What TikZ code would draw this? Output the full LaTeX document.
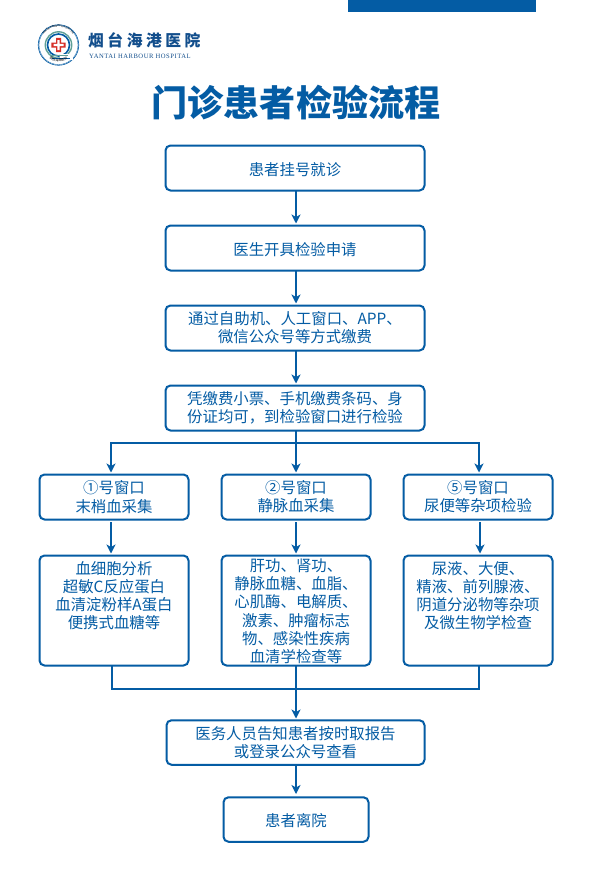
\documentclass[tikz,border=0pt]{standalone}
\usepackage{fontspec}
\setmainfont{Noto Sans CJK SC}
\newfontfamily\latinserif{Liberation Serif}[LetterSpace=8]
\newfontfamily\logofont{Noto Sans CJK SC}[LetterSpace=22]
\usetikzlibrary{arrows.meta,decorations.text}
\definecolor{hblue}{RGB}{4,92,164}
\definecolor{hnavy}{RGB}{18,78,140}
\definecolor{hred}{RGB}{214,48,40}
\definecolor{hgreen}{RGB}{96,160,150}
\newcommand{\toptext}[3]{\parbox[c][#1][t]{146pt}{\centering\rule{0pt}{#2}#3\par}}
\tikzset{
  flowbox/.style={draw=hblue,line width=2pt,rounded corners=5pt,fill=white,text=hblue,inner sep=0pt,align=center,font=\fontsize{15.4}{18.2}\selectfont,execute at begin node={\rule{0pt}{16pt}}},
  flow/.style={draw=hblue,line width=1.6pt},
  arr/.style={flow,shorten >=1.5pt,-{Stealth[length=9pt,width=9pt,inset=2.5pt]}},
  wide/.style={flowbox,minimum width=259pt,minimum height=45pt},
  windowbox/.style={flowbox,minimum width=149pt,minimum height=45pt},
  detailbox/.style={flowbox,minimum width=149pt,minimum height=110pt},
}
\begin{document}
\begin{tikzpicture}[x=1pt,y=-1pt]
\useasboundingbox (0,0) rectangle (592,886);
\fill[white] (0,0) rectangle (592,886);
% top bar
\fill[hblue] (348,0) rectangle (536,11.5);
% logo
\draw[hblue,line width=.6pt] (58.5,45) circle (20.3);
\draw[hblue,line width=.3pt] (58.5,45) circle (19.5);
\draw[hgreen,line width=1.4pt] (58.5,45) circle (13.2);
\draw[hblue,line width=1.6pt] (58.5,45) circle (11);
\fill[white] (58.5,45) circle (8.5);
\fill[hred] (56,37.8) -- (61,37.8) -- (61,42.5) -- (65.7,42.5) -- (65.7,47.5) -- (61,47.5) -- (61,52.2) -- (56,52.2) -- (56,47.5) -- (51.3,47.5) -- (51.3,42.5) -- (56,42.5) -- cycle;
\fill[white] (57.3,40) -- (59.7,40) -- (59.7,43.8) -- (63.5,43.8) -- (63.5,46.2) -- (59.7,46.2) -- (59.7,50) -- (57.3,50) -- (57.3,46.2) -- (53.5,46.2) -- (53.5,43.8) -- (57.3,43.8) -- cycle;
\fill[white] (60,54) rectangle (73,60);
\draw[hgreen,line width=.9pt] (50,55.5) -- (68,55.5);
\draw[hblue,line width=.9pt] (52,58) -- (70,58);
\path[text=hblue,decorate,decoration={text along path,text align=center,text={|\fontsize{3.2}{3.2}\selectfont|烟台海港医院}}] (42,45) arc[start angle=180,end angle=0,radius=16.5];
\path[text=hblue,decorate,decoration={text along path,text align=center,text={|\fontsize{2.6}{2.6}\selectfont|YANTAI HARBOUR HOSPITAL}}] (40.5,43) arc[start angle=186,end angle=354,radius=18];
\node[anchor=west,inner sep=0pt,text=hnavy,font=\logofont\fontsize{15.8}{15.8}\selectfont] (logocn) at (88,40.5) {\textbf{烟台海港医院}};
\node[anchor=west,inner sep=0pt,text=hnavy,font=\latinserif\fontsize{6.6}{6.6}\selectfont] (logoen) at (89,56) {YANTAI HARBOUR HOSPITAL};
% title
\node[inner sep=0pt,text=hblue,font=\bfseries\fontsize{36.1}{36.1}\selectfont] (title) at (296,102.5) {门诊患者检验流程};
% boxes
\node[wide] (b1) at (295,168) {患者挂号就诊};
\node[wide] (b2) at (295,248) {医生开具检验申请};
\node[wide] (b3) at (295,328) {通过自助机、人工窗口、APP、\\微信公众号等方式缴费};
\node[wide] (b4) at (295,408) {凭缴费小票、手机缴费条码、身\\份证均可，到检验窗口进行检验};
\node[windowbox] (w1) at (114,497) {①号窗口\\末梢血采集};
\node[windowbox] (w2) at (296,497) {②号窗口\\静脉血采集};
\node[windowbox] (w3) at (478,497) {⑤号窗口\\尿便等杂项检验};
\node[detailbox] (d1) at (114,610.5) {\toptext{110pt}{18.5pt}{血细胞分析\\超敏C反应蛋白\\血清淀粉样A蛋白\\便携式血糖等}};
\node[detailbox] (d2) at (296,610.5) {\toptext{110pt}{16pt}{肝功、肾功、\\静脉血糖、血脂、\\心肌酶、电解质、\\激素、肿瘤标志\\物、感染性疾病\\血清学检查等}};
\node[detailbox] (d3) at (478,610.5) {\toptext{110pt}{18.5pt}{尿液、大便、\\精液、前列腺液、\\阴道分泌物等杂项\\及微生物学检查}};
\node[flowbox,minimum width=258pt,minimum height=44.5pt] (r) at (295.5,742.5) {医务人员告知患者按时取报告\\或登录公众号查看};
\node[flowbox,minimum width=145pt,minimum height=44.5pt] (l) at (296,819.5) {患者离院};
% anchors on the box edges where the connectors meet them
\coordinate (j) at (296,443);
\coordinate (m) at (296,689);
\coordinate (w1t) at (111,474);
\coordinate (w3t) at (479,474);
\coordinate (w1b) at (111,520);
\coordinate (d1t) at (111,555);
\coordinate (w2b) at (296,520);
\coordinate (d2t) at (296,555);
\coordinate (w3b) at (480,520);
\coordinate (d3t) at (480,555);
\coordinate (d1b) at (112,666);
\coordinate (d3b) at (479,666);
\coordinate (rt) at (296,720);
\coordinate (b1b) at (296,191);
\coordinate (b2t) at (296,225);
\coordinate (b2b) at (296,271);
\coordinate (b3t) at (296,305);
\coordinate (b3b) at (296,351);
\coordinate (b4t) at (296,385);
\coordinate (b4b) at (296,431);
\coordinate (w2t) at (296,474);
\coordinate (d2b) at (296,666);
\coordinate (rb) at (296,765);
\coordinate (lt) at (296,797);
% connectors
\draw[arr] (b1b) -- (b2t);
\draw[arr] (b2b) -- (b3t);
\draw[arr] (b3b) -- (b4t);
\draw[flow] (b4b) -- (j);
\draw[arr] (j) -- (w2t);
\draw[arr] (j) -| (w1t);
\draw[arr] (j) -| (w3t);
\draw[arr,shorten <=2pt] (w1b) -- (d1t);
\draw[arr,shorten <=2pt] (w2b) -- (d2t);
\draw[arr,shorten <=2pt] (w3b) -- (d3t);
\draw[flow] (d1b) |- (m);
\draw[flow] (d3b) |- (m);
\draw[flow] (d2b) -- (m);
\draw[arr] (m) -- (rt);
\draw[arr,shorten >=3pt] (rb) -- (lt);
\end{tikzpicture}
\end{document}
